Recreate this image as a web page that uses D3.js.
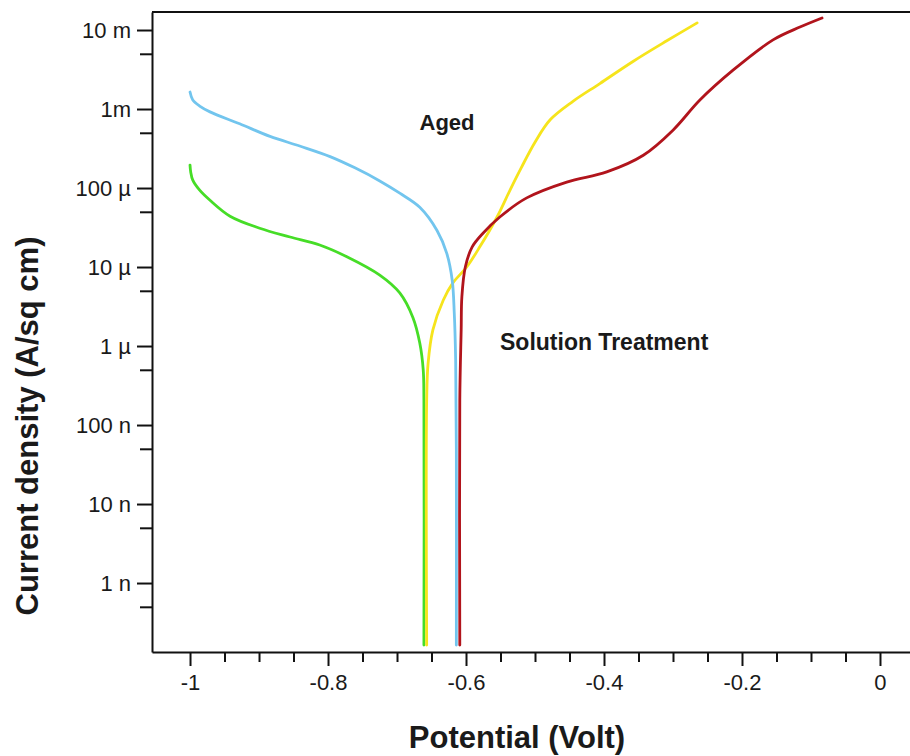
<!DOCTYPE html>
<html lang="en">
<head>
<meta charset="UTF-8">
<title>Polarization curves</title>
<script src="https://d3js.org/d3.v7.min.js"></script>
<style>
  body { margin: 0; background: #fff; }
  svg text { font-family: "Liberation Sans", Arial, sans-serif; fill: #1a1a1a; }
</style>
</head>
<body>
<div id="chart"></div>
<script>
// potential (V) and current density (A/sq cm)
var blueV = [-1.0, -0.996, -0.986, -0.971, -0.928, -0.884, -0.841, -0.797, -0.761, -0.725, -0.696, -0.667, -0.642, -0.628, -0.620, -0.617, -0.615, -0.614, -0.614];
var blueI = [1.64e-3, 1.3e-3, 1.09e-3, 9.2e-4, 6.5e-4, 4.5e-4, 3.4e-4, 2.5e-4, 1.8e-4, 1.23e-4, 8.6e-5, 5.7e-5, 2.9e-5, 1.5e-5, 6.8e-6, 2.6e-6, 6.7e-7, 4.8e-8, 1.64e-10];

var greenV = [-1.0, -0.999, -0.996, -0.986, -0.971, -0.942, -0.899, -0.855, -0.812, -0.772, -0.725, -0.696, -0.677, -0.667, -0.662, -0.661, -0.661];
var greenI = [1.95e-4, 1.6e-4, 1.26e-4, 9.4e-5, 7.0e-5, 4.4e-5, 3.1e-5, 2.4e-5, 1.9e-5, 1.34e-5, 7.9e-6, 4.7e-6, 2.3e-6, 1.09e-6, 5.0e-7, 2.07e-7, 1.64e-10];

var yellowV = [-0.657, -0.657, -0.655, -0.648, -0.633, -0.619, -0.599, -0.580, -0.555, -0.536, -0.520, -0.500, -0.478, -0.445, -0.406, -0.358, -0.309, -0.265];
var yellowI = [1.64e-10, 2.07e-7, 6.0e-7, 1.6e-6, 3.8e-6, 6.3e-6, 1.0e-5, 1.8e-5, 4.3e-5, 9.5e-5, 1.8e-4, 3.8e-4, 7.3e-4, 1.25e-3, 2.1e-3, 4.0e-3, 7.3e-3, 1.23e-2];

var redV = [-0.609, -0.609, -0.607, -0.606, -0.601, -0.591, -0.575, -0.551, -0.512, -0.454, -0.396, -0.343, -0.300, -0.261, -0.213, -0.155, -0.116, -0.084];
var redI = [1.64e-10, 2.07e-7, 1.6e-6, 4.2e-6, 1.0e-5, 1.8e-5, 2.7e-5, 4.3e-5, 7.5e-5, 1.19e-4, 1.6e-4, 2.6e-4, 5.4e-4, 1.3e-3, 3.1e-3, 7.5e-3, 1.09e-2, 1.42e-2];

var xTicks = [-1, -0.8, -0.6, -0.4, -0.2, 0];
var xMinor = [-0.95, -0.9, -0.85, -0.75, -0.7, -0.65, -0.55, -0.5, -0.45, -0.35, -0.3, -0.25, -0.15, -0.1, -0.05];
var yTicks = [1e-2, 1e-3, 1e-4, 1e-5, 1e-6, 1e-7, 1e-8, 1e-9];
var yLabels = ["10 m", "1m", "100 \u00b5", "10 \u00b5", "1 \u00b5", "100 n", "10 n", "1 n"];
var yMinor = [5e-3, 5e-4, 5e-5, 5e-6, 5e-7, 5e-8, 5e-9, 5e-10];

var width = 910, height = 756;
var plotLeft = 152, plotRight = 910, plotTop = 12, plotBottom = 652;

var svg = d3.select('#chart').append('svg')
  .attr('width', width)
  .attr('height', height);

var x = d3.scaleLinear().domain([-1.0551, 0.0435]).range([plotLeft, plotRight]);
var y = d3.scaleLog().domain([Math.pow(10, -9.873), Math.pow(10, -1.772)]).range([plotBottom, plotTop]);

// axes
svg.append('g')
  .attr('transform', 'translate(0,' + plotBottom + ')')
  .call(d3.axisBottom(x).tickValues(xTicks).tickSize(14).tickSizeOuter(0).tickPadding(8)
    .tickFormat(function(d){ return d === 0 ? '0' : String(d); }));
svg.append('g')
  .attr('transform', 'translate(0,' + plotBottom + ')')
  .call(d3.axisBottom(x).tickValues(xMinor).tickSize(10).tickSizeOuter(0).tickFormat(''))
  .select('.domain').remove();

svg.append('g')
  .attr('transform', 'translate(' + plotLeft + ',0)')
  .call(d3.axisLeft(y).tickValues(yTicks).tickSize(15).tickSizeOuter(0).tickPadding(6)
    .tickFormat(function(d, i){ return yLabels[i]; }));
svg.append('g')
  .attr('transform', 'translate(' + plotLeft + ',0)')
  .call(d3.axisLeft(y).tickValues(yMinor).tickSize(12).tickSizeOuter(0).tickFormat(''))
  .select('.domain').remove();

svg.selectAll('.domain').attr('stroke', '#111').attr('stroke-width', 2);
svg.selectAll('.tick line').attr('stroke', '#111').attr('stroke-width', 2);
svg.selectAll('.tick text').style('font-size', '22px').attr('fill', '#1a1a1a');

// top frame line
svg.append('line')
  .attr('x1', plotLeft).attr('x2', plotRight)
  .attr('y1', plotTop).attr('y2', plotTop)
  .attr('stroke', '#111').attr('stroke-width', 2);

// curves
var line = d3.line()
  .x(function(d){ return x(d[0]); })
  .y(function(d){ return y(d[1]); })
  .curve(d3.curveCatmullRom.alpha(0.5));

function pairs(v, c){ return v.map(function(d, i){ return [d, c[i]]; }); }

var series = [
  { data: pairs(greenV, greenI), color: '#46DD27' },
  { data: pairs(yellowV, yellowI), color: '#F6E41C' },
  { data: pairs(blueV, blueI), color: '#72C5EE' },
  { data: pairs(redV, redI), color: '#B1141C' }
];

svg.selectAll('path.curve')
  .data(series)
  .enter()
  .append('path')
  .attr('class', 'curve')
  .attr('d', function(d){ return line(d.data); })
  .attr('fill', 'none')
  .attr('stroke', function(d){ return d.color; })
  .attr('stroke-width', 2.8)
  .attr('stroke-linejoin', 'round')
  .attr('stroke-linecap', 'round');

// annotations
svg.append('text')
  .attr('x', 447).attr('y', 130)
  .attr('text-anchor', 'middle')
  .style('font-size', '22px').style('font-weight', 'bold')
  .text('Aged');
svg.append('text')
  .attr('x', 500).attr('y', 350)
  .style('font-size', '23px').style('font-weight', 'bold')
  .text('Solution Treatment');

// axis titles
svg.append('text')
  .attr('x', 517).attr('y', 748)
  .attr('text-anchor', 'middle')
  .style('font-size', '31px').style('font-weight', 'bold')
  .text('Potential (Volt)');
svg.append('text')
  .attr('transform', 'translate(38,426) rotate(-90)')
  .attr('text-anchor', 'middle')
  .style('font-size', '31px').style('font-weight', 'bold')
  .text('Current density (A/sq cm)');
</script>
</body>
</html>
